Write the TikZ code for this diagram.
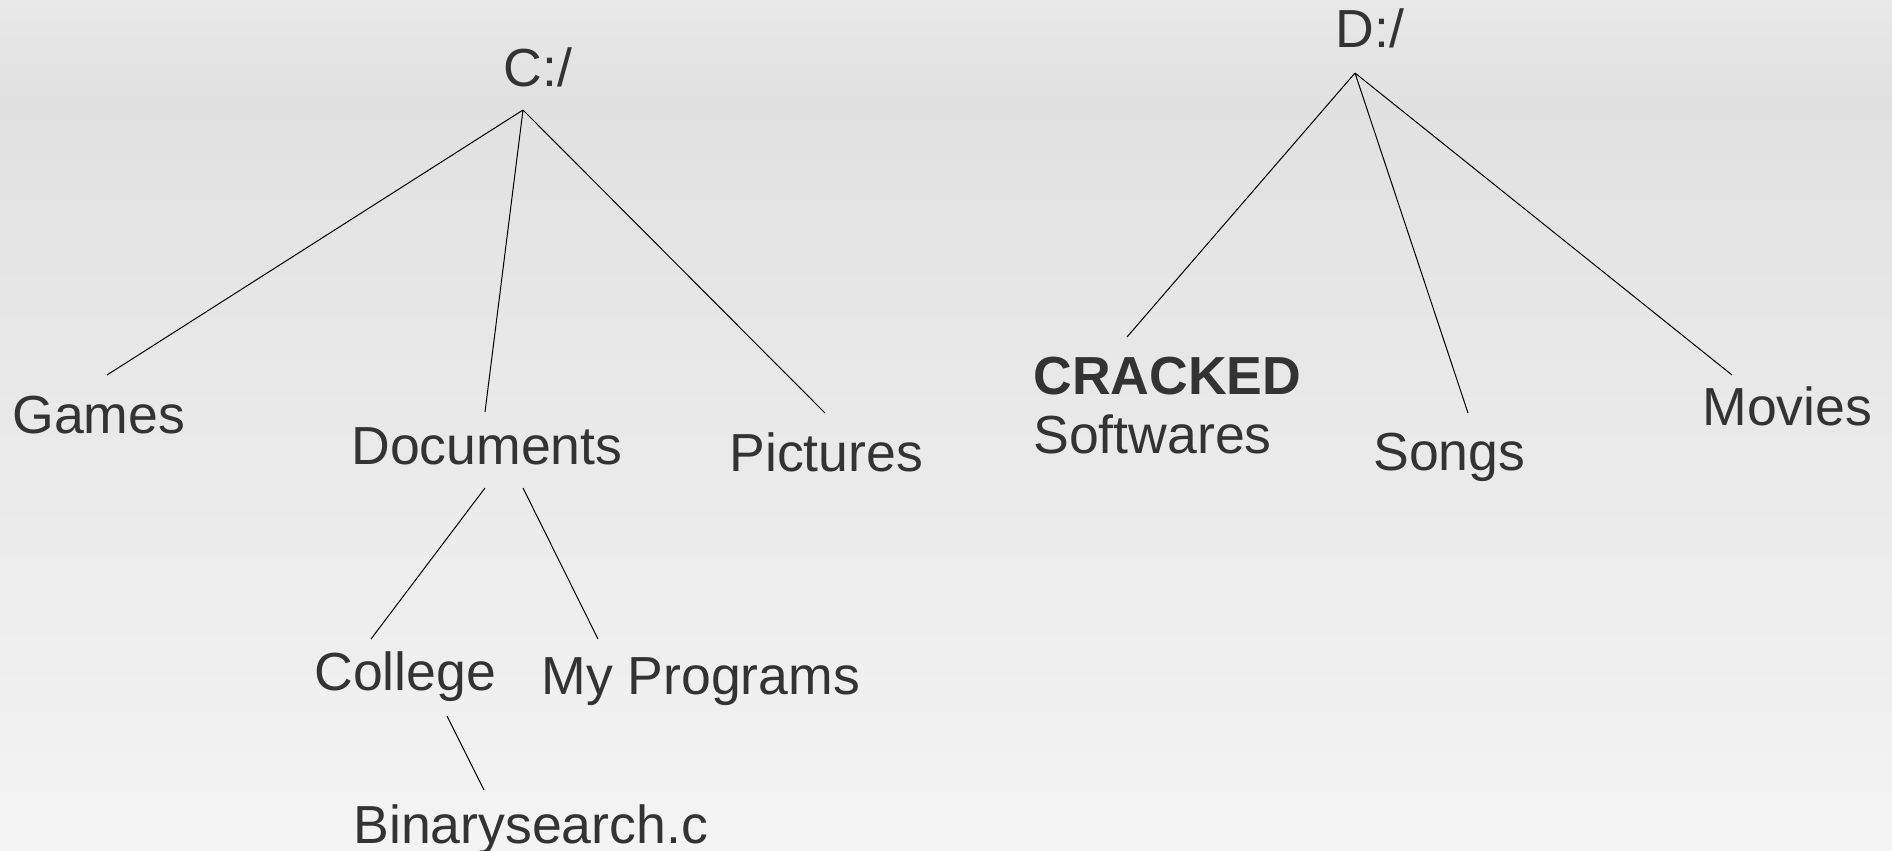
\documentclass[tikz,border=0pt]{standalone}
\usepackage{fontspec}
\setmainfont{Liberation Sans}
\usetikzlibrary{positioning}
\definecolor{inkc}{HTML}{333333}
\definecolor{bgtop}{HTML}{E8E8E8}
\definecolor{bgmid}{HTML}{E1E1E1}
\definecolor{bgbot}{HTML}{F4F4F4}
\tikzset{
  lbl/.style={inner sep=0pt,anchor=base west,text=inkc,font=\fontsize{26.8pt}{30pt}\selectfont},
  br/.style={black,line width=0.5pt}
}
\begin{document}
\begin{tikzpicture}[x=0.5pt,y=-0.5pt]
\useasboundingbox (0,0) rectangle (1892,851);
\shade[top color=bgtop,bottom color=bgmid] (0,0) rectangle (1892,100);
\shade[top color=bgmid,bottom color=bgbot] (0,100) rectangle (1892,851);
\node[lbl] (croot) at (503,86) {C:/};
\node[lbl] (droot) at (1335,47) {D:/};
\node[lbl] (games) at (12,433) {Games};
\node[lbl] (docs) at (351,464) {Documents};
\node[lbl] (pics) at (729,471) {Pictures};
\node[lbl] (college) at (314,690) {College};
\node[lbl] (myprog) at (541,694) {My Programs};
\node[lbl] (bsearch) at (353,843) {Binarysearch.c};
\node[lbl,font=\fontsize{26.8pt}{30pt}\selectfont\bfseries] (cracked) at (1033,394) {CRACKED};
\node[lbl] (softw) at (1033,453) {Softwares};
\node[lbl] (songs) at (1373,470) {Songs};
\node[lbl] (movies) at (1702,425) {Movies};
\coordinate (cApex) at (523,110); \coordinate (dApex) at (1355,73);
\coordinate (gamesTop) at (107,375); \coordinate (docsTop) at (485,412);
\coordinate (picsTop) at (825,413); \coordinate (docsL) at (485,488);
\coordinate (docsR) at (523,488); \coordinate (collegeTop) at (371,639);
\coordinate (myprogTop) at (598,639); \coordinate (collegeBot) at (447,716);
\coordinate (bsTop) at (484,790); \coordinate (crackTop) at (1127,337);
\coordinate (songsTop) at (1468,413); \coordinate (moviesTop) at (1732,375);
\draw[br] (cApex)--(gamesTop) (cApex)--(docsTop) (cApex)--(picsTop);
\draw[br] (docsL)--(collegeTop) (docsR)--(myprogTop) (collegeBot)--(bsTop);
\draw[br] (dApex)--(crackTop) (dApex)--(songsTop) (dApex)--(moviesTop);
\end{tikzpicture}
\end{document}
